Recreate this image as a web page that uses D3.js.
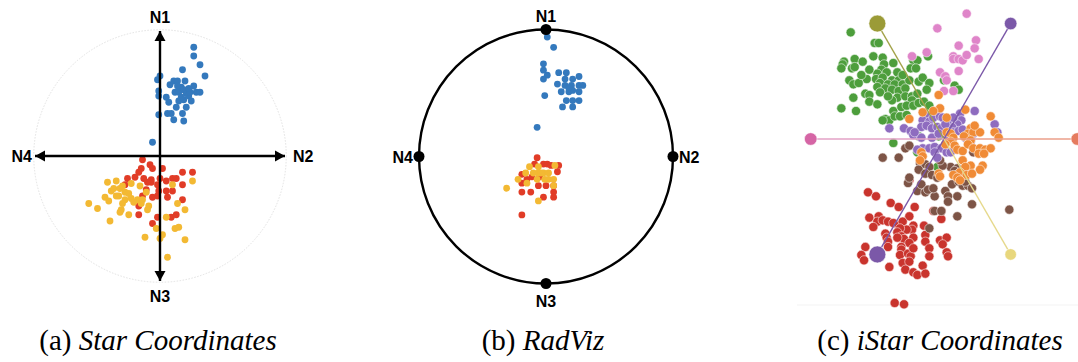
<!DOCTYPE html>
<html>
<head>
<meta charset="utf-8">
<title>Star Coordinates / RadViz / iStar Coordinates</title>
<script src="https://d3js.org/d3.v7.min.js"></script>
<style>
  body { margin: 0; background: #fff; }
  .axlabel { font: bold 16px "Liberation Sans", Arial, sans-serif; }
  .caption { font: 29px "Liberation Serif", "Times New Roman", serif; }
</style>
</head>
<body>
<svg id="chart" width="1078" height="362"></svg>
<script>
// ---------- data (projected positions, 100 = one axis length) ----------
const dimNames = ["N1", "N2", "N3", "N4"];
const dimAngles = [90, 0, 270, 180];

// (a) star coordinates
const starBlue = [[27,87],[27,80],[32,73],[36,64],[18,69],[0,64],[-2,61],[-1,52],[-1,48],[-1,33],[-6,11],[5,47],[7,43],[6,34],[9,34],[11,29],[13,39],[18,34],[19,28],[21,39],[8,57],[11,60],[14,60],[20,60],[12,51],[15,51],[17,55],[19,53],[21,50],[15,44],[19,45],[23,48],[25,44],[27,56],[29,51],[32,51],[24,51],[14,56],[23,54],[17,47]];
const starRed = [[-14,-3],[-8,-7],[-6,-10],[2,-10],[-15,-10],[-17,-13],[-26,-18],[-20,-17],[-13,-18],[-7,-19],[-7,-21],[0,-18],[5,-20],[10,-18],[13,-18],[18,-13],[26,-13],[18,-23],[-2,-23],[-1,-28],[5,-28],[10,-28],[-11,-27],[-14,-32],[-6,-33],[-2,-32],[6,-33],[18,-35],[-17,-40],[-17,-47],[-2,-49],[-6,-54],[9,-49],[13,-47],[-28,-23],[-10,-21]];
const starYellow = [[-42,-21],[-35,-20],[-39,-28],[-37,-26],[-32,-26],[-30,-24],[-23,-22],[-16,-24],[-11,-29],[-44,-33],[-41,-36],[-57,-38],[-50,-42],[-40,-52],[-33,-32],[-28,-29],[-25,-30],[-28,-35],[-23,-34],[-18,-35],[-21,-37],[-30,-38],[-31,-43],[-32,-45],[-25,-47],[-14,-35],[-15,-38],[-9,-40],[-10,-43],[10,-23],[26,-20],[14,-38],[20,-43],[5,-49],[-3,-58],[12,-58],[15,-57],[-12,-65],[0,-66],[2,-63],[20,-67],[6,-81],[-35,-32]];

// (b) radviz
const radBlue = [[1,94],[6,86],[-2,73],[-2,68],[1,64],[-2,61],[-1,48],[-7,23],[10,66],[16,66],[9,57],[15,61],[21,61],[26,63],[15,56],[20,56],[26,56],[29,56],[12,51],[18,51],[21,52],[26,51],[16,44],[21,44],[26,44],[13,39],[21,39],[18,54]];
const radRed = [[-7,-1],[-9,-6],[-2,-6],[1,-6],[4,-7],[10,-7],[9,-12],[-19,-14],[-19,-21],[-11,-16],[-6,-23],[0,-23],[6,-23],[-19,-28],[-12,-28],[-2,-32],[6,-28],[6,-32],[-19,-46],[-5,-16],[-15,-18]];
const radYellow = [[-13,-8],[-6,-8],[7,-7],[-16,-13],[-10,-13],[-6,-13],[-2,-13],[2,-13],[-22,-18],[-7,-18],[-1,-18],[2,-18],[-15,-21],[6,-18],[6,-23],[-31,-25],[-6,-35],[-4,-13]];

// (c) iStar coordinates, six axes
const iAxisAngles = [0, 60, 120, 180, 240, 300];
const iGreen = [[-70,80],[-52,72],[-49,72],[-53,62],[-46,61],[-67,60],[-61,58],[-75,58],[-76,56],[-77,53],[-69,53],[-67,54],[-38,57],[-45,56],[-47,52],[-50,49],[-43,50],[-35,50],[-58,45],[-51,45],[-46,46],[-39,44],[-34,44],[-71,44],[-68,41],[-64,42],[-48,42],[-42,41],[-37,41],[-31,41],[-26,44],[-50,39],[-44,38],[-39,37],[-34,36],[-29,38],[-48,35],[-59,34],[-56,33],[-68,31],[-35,31],[-39,29],[-29,32],[-24,32],[-20,34],[-24,29],[-77,23],[-66,21],[-38,21],[-32,24],[-28,25],[-23,25],[-19,27],[-44,15],[-41,14],[-37,17],[-23,59],[-20,59],[-25,53],[-21,53],[-12,62],[-19,43],[-16,46],[-11,42],[-13,37],[-15,28],[-11,25],[0,44],[8,40],[11,37],[-38,-3],[-19,2],[-4,2],[-26,-5],[-20,-10],[-5,-21],[9,14],[5,5],[-56,52],[-62,48],[-42,32],[-31,48],[-56,28],[-33,17],[-50,26],[-46,14],[-28,18]];
const iPink = [[17,94],[-5,83],[24,74],[11,70],[23,68],[7,62],[7,60],[11,60],[14,59],[17,63],[26,60],[11,51],[-3,50],[1,47],[2,44],[0,36],[7,36],[-24,62],[-13,65]];
const iRed = [[-26,-31],[-57,-40],[-51,-43],[-40,-48],[-34,-51],[-22,-51],[-26,-58],[-56,-59],[-49,-58],[-50,-62],[-46,-61],[-42,-62],[-38,-63],[-34,-65],[-31,-62],[-53,-66],[-23,-65],[-24,-68],[-28,-68],[-33,-67],[-35,-70],[-32,-73],[-30,-75],[-35,-74],[-15,-65],[-8,-54],[-2,-54],[-2,-60],[-44,-71],[-43,-74],[-42,-77],[-42,-81],[-23,-74],[-26,-78],[-14,-72],[-14,-77],[-3,-76],[2,-74],[-1,-79],[2,-85],[3,-88],[-11,-82],[-11,-88],[-59,-81],[-62,-87],[-60,-91],[-32,-81],[-32,-83],[-33,-87],[-27,-86],[-25,-88],[-23,-82],[-31,-93],[-26,-92],[-29,-98],[-41,-96],[-16,-95],[-23,-100],[-20,-102],[-14,-101],[-37,-123],[-30,-124]];
const iBrown = [[-46,-14],[-34,-14],[-29,-7],[-26,-5],[-18,-18],[-14,-19],[-11,-21],[-19,-23],[-14,-26],[-9,-27],[5,-21],[10,-22],[22,-10],[-1,-20],[-5,-29],[8,-24],[11,-26],[-27,-33],[-26,-29],[-20,-39],[-17,-34],[-14,-40],[-12,-38],[-7,-43],[1,-39],[6,-34],[11,-32],[14,-35],[18,-35],[3,-43],[3,-47],[10,-43],[21,-37],[21,-49],[49,-53],[-7,-54],[-2,-54],[10,-58],[-11,-67],[16,-32],[-8,-37],[-3,-16]];
const iPurple = [[23,21],[12,19],[13,14],[10,11],[6,9],[-13,17],[-16,14],[-11,13],[-8,16],[-3,17],[-1,16],[3,14],[-41,8],[-30,8],[-25,6],[-23,3],[-17,9],[-13,10],[-9,8],[-5,9],[-2,8],[1,11],[7,5],[11,6],[14,7],[-9,1],[-17,1],[2,1],[16,1],[20,-2],[38,11],[-16,-7],[-11,-7],[-7,-6],[-2,-7],[2,-10],[-7,-10],[-20,-8],[-5,-14],[7,16],[-22,5],[22,4],[5,-10],[40,5],[-4,4]];
const iOrange = [[-4,33],[-3,23],[-16,20],[-26,15],[16,22],[35,17],[38,5],[41,1],[20,8],[18,4],[22,5],[15,2],[20,-1],[2,5],[5,4],[7,1],[5,-2],[8,-5],[10,-8],[14,-9],[18,-4],[22,-7],[27,-7],[31,-8],[35,-7],[26,-11],[30,-11],[29,-20],[27,-23],[14,-16],[20,-20],[16,-21],[12,-25],[17,-27],[21,-26],[7,-27],[10,-29],[-17,-10],[-16,-13],[-18,-16],[-4,-26],[-3,-28],[-8,21],[2,16],[27,5],[12,-31],[23,10],[1,-4]];

const captionTags = ["(a) ", "(b) ", "(c) "];
const captionNames = ["Star Coordinates", "RadViz", "iStar Coordinates"];

// ---------- drawing ----------
const svg = d3.select("#chart");
const rad = a => a * Math.PI / 180;

function makeScales(cx, cy, r) {
  return {
    x: d3.scaleLinear().domain([-100, 100]).range([cx - r, cx + r]),
    y: d3.scaleLinear().domain([-100, 100]).range([cy + r, cy - r])
  };
}

function dots(g, s, data, color, r, stroke) {
  g.append("g").selectAll("circle")
    .data(data).enter().append("circle")
    .attr("cx", d => s.x(d[0]))
    .attr("cy", d => s.y(d[1]))
    .attr("r", r)
    .attr("fill", color)
    .attr("stroke", stroke || "none")
    .attr("stroke-width", stroke ? 0.6 : 0);
}

const BLUE = "#3479bd", RED = "#e13c27", YELLOW = "#f3b933";

// ---- (a) Star Coordinates ----
const sa = makeScales(160, 156, 125);
const ga = svg.append("g");
ga.append("circle")
  .attr("cx", sa.x(0)).attr("cy", sa.y(0))
  .attr("r", sa.x(101) - sa.x(0))
  .attr("fill", "none").attr("stroke", "#e2e2e2")
  .attr("stroke-width", 1).attr("stroke-dasharray", "1.5,1.5");

dots(ga, sa, starBlue, BLUE, 3.4);
dots(ga, sa, starRed, RED, 3.4);
dots(ga, sa, starYellow, YELLOW, 3.4);

dimAngles.forEach((a, i) => {
  const tx = sa.x(100 * Math.cos(rad(a))), ty = sa.y(100 * Math.sin(rad(a)));
  ga.append("line")
    .attr("x1", sa.x(0)).attr("y1", sa.y(0)).attr("x2", tx).attr("y2", ty)
    .attr("stroke", "#000").attr("stroke-width", 2.4);
  // arrowhead
  const ux = Math.cos(rad(a)), uy = -Math.sin(rad(a));
  const L = 10, W = 5.5;
  const bx = tx - ux * L, by = ty - uy * L;
  ga.append("path")
    .attr("d", `M${tx},${ty}L${bx - uy * W},${by + ux * W}L${bx + uy * W},${by - ux * W}Z`)
    .attr("fill", "#000");
});
// labels
ga.append("text").attr("class", "axlabel").attr("text-anchor", "middle")
  .attr("x", sa.x(0)).attr("y", sa.y(100) - 8).text(dimNames[0]);
ga.append("text").attr("class", "axlabel").attr("text-anchor", "start")
  .attr("x", sa.x(100) + 8).attr("y", sa.y(0) + 6).text(dimNames[1]);
ga.append("text").attr("class", "axlabel").attr("text-anchor", "middle")
  .attr("x", sa.x(0)).attr("y", sa.y(-100) + 21).text(dimNames[2]);
ga.append("text").attr("class", "axlabel").attr("text-anchor", "end")
  .attr("x", sa.x(-100) - 3).attr("y", sa.y(0) + 6).text(dimNames[3]);

// ---- (b) RadViz ----
const sb = makeScales(546, 156.5, 127);
const gb = svg.append("g");
gb.append("circle")
  .attr("cx", sb.x(0)).attr("cy", sb.y(0))
  .attr("r", sb.x(100) - sb.x(0))
  .attr("fill", "none").attr("stroke", "#000").attr("stroke-width", 2.4);
dots(gb, sb, radBlue, BLUE, 3.4);
dots(gb, sb, radRed, RED, 3.4);
dots(gb, sb, radYellow, YELLOW, 3.4);
dimAngles.forEach(a => {
  gb.append("circle")
    .attr("cx", sb.x(100 * Math.cos(rad(a))))
    .attr("cy", sb.y(100 * Math.sin(rad(a))))
    .attr("r", 5.5).attr("fill", "#000");
});
gb.append("text").attr("class", "axlabel").attr("text-anchor", "middle")
  .attr("x", sb.x(0)).attr("y", sb.y(100) - 8).text(dimNames[0]);
gb.append("text").attr("class", "axlabel").attr("text-anchor", "start")
  .attr("x", sb.x(100) + 6).attr("y", sb.y(0) + 6).text(dimNames[1]);
gb.append("text").attr("class", "axlabel").attr("text-anchor", "middle")
  .attr("x", sb.x(0)).attr("y", sb.y(-100) + 23).text(dimNames[2]);
gb.append("text").attr("class", "axlabel").attr("text-anchor", "end")
  .attr("x", sb.x(-100) - 6).attr("y", sb.y(0) + 6).text(dimNames[3]);

// ---- (c) iStar Coordinates ----
const sc = makeScales(944, 139, 133.3);
const gc = svg.append("g");
gc.append("line")
  .attr("x1", 797).attr("x2", 1078).attr("y1", 305).attr("y2", 305)
  .attr("stroke", "#f3f3f3").attr("stroke-width", 1);

const PT = 4.6;
dots(gc, sc, iRed, "#c9342d", PT, "#fbe9e9");
dots(gc, sc, iGreen, "#4d9e3c", PT, "#eef7ec");
dots(gc, sc, iPink, "#df85c9", PT, "#fdf0f8");
dots(gc, sc, iBrown, "#7d5446", PT, "#f3ecea");
dots(gc, sc, iPurple, "#8e6cbf", PT, "#f3eefa");
dots(gc, sc, iOrange, "#f08b36", PT, "#fff2e8");

const axisColors = ["#e57b5f", "#7b58a8", "#9b9b37", "#d565a5", "#7b58a8", "#e8d77d"];
const lineColors = ["#eb9f8a", "#7b58a8", "#a3a34a", "#e3a2c6", "#7b58a8", "#e6d98c"];
const nodeR = [6.3, 6.3, 8.5, 6.3, 8.5, 5.8];
iAxisAngles.forEach((a, i) => {
  gc.append("line")
    .attr("x1", sc.x(0)).attr("y1", sc.y(0))
    .attr("x2", sc.x(100 * Math.cos(rad(a)))).attr("y2", sc.y(100 * Math.sin(rad(a))))
    .attr("stroke", lineColors[i]).attr("stroke-width", 1.4);
});
iAxisAngles.forEach((a, i) => {
  gc.append("circle")
    .attr("cx", sc.x(100 * Math.cos(rad(a))))
    .attr("cy", sc.y(100 * Math.sin(rad(a))))
    .attr("r", nodeR[i]).attr("fill", axisColors[i])
    .attr("stroke", "#fff").attr("stroke-width", 0.6);
});

// ---- captions ----
const capX = [158, 543, 940];
captionTags.forEach((t, i) => {
  const tx = svg.append("text").attr("class", "caption")
    .attr("x", capX[i]).attr("y", 350).attr("text-anchor", "middle");
  tx.append("tspan").text(t);
  tx.append("tspan").attr("font-style", "italic").text(captionNames[i]);
});
</script>
</body>
</html>
